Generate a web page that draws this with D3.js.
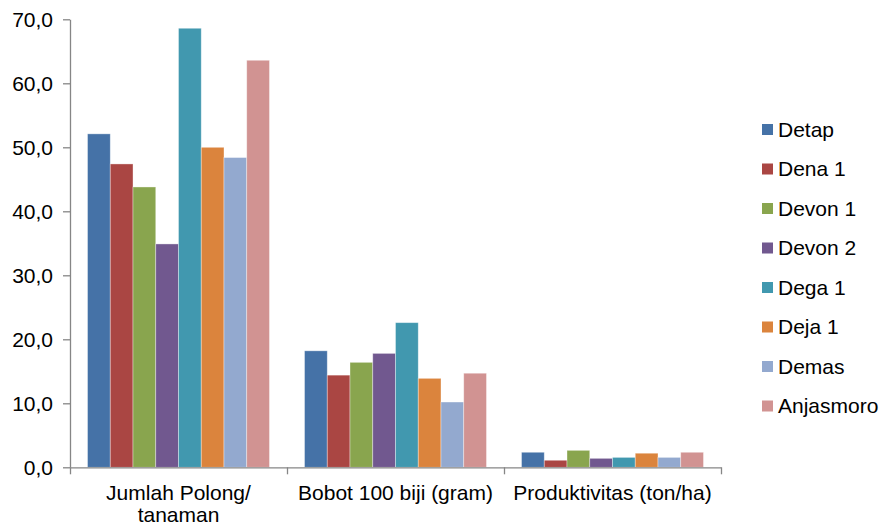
<!DOCTYPE html>
<html>
<head>
<meta charset="utf-8">
<script src="https://cdn.jsdelivr.net/npm/d3@7"></script>
<style>
  html, body { margin: 0; padding: 0; background: #fff; }
  svg { display: block; font-family: "Liberation Sans", Arial, sans-serif; }
</style>
</head>
<body>
<svg id="chart" width="880" height="524"></svg>
<script>
// Categories (each label may wrap onto several lines)
const categories = ["Jumlah Polong/ tanaman", "Bobot 100 biji (gram)", "Produktivitas (ton/ha)"];
const categoryLines = [["Jumlah Polong/", "tanaman"], ["Bobot 100 biji (gram)"], ["Produktivitas (ton/ha)"]];

// Soybean varieties
const series = ["Detap", "Dena 1", "Devon 1", "Devon 2", "Dega 1", "Deja 1", "Demas", "Anjasmoro"];
const colors = ["#4572A7", "#AA4643", "#89A54E", "#71588F", "#4198AF", "#DB843D", "#93A9CF", "#D19392"];

// Values per variety, one per category
const detap     = [52.1, 18.2, 2.35];
const dena1     = [47.4, 14.4, 1.1];
const devon1    = [43.8, 16.4, 2.65];
const devon2    = [34.9, 17.8, 1.4];
const dega1     = [68.6, 22.6, 1.55];
const deja1     = [50.0, 13.9, 2.2];
const demas     = [48.4, 10.2, 1.55];
const anjasmoro = [63.6, 14.7, 2.35];

const yTicks = [0, 10, 20, 30, 40, 50, 60, 70];

const valuesBySeries = [detap, dena1, devon1, devon2, dega1, deja1, demas, anjasmoro];

(function draw() {
  const svg = d3.select("#chart");
  const plotLeft = 70, plotRight = 721, plotTop = 19.3, plotBottom = 467.3;
  const axisColor = "#868686";
  const fontSize = 21;

  const y = d3.scaleLinear().domain([0, 70]).range([plotBottom, plotTop]);
  const x0 = d3.scaleBand().domain(categories).range([plotLeft, plotRight]).paddingInner(0).paddingOuter(0);
  const x1 = d3.scaleBand().domain(series).range([0, x0.bandwidth()]).paddingInner(0).paddingOuter(0.77);

  // Bars
  const groups = svg.append("g").selectAll("g")
    .data(categories)
    .join("g")
    .attr("transform", d => `translate(${x0(d)},0)`);

  groups.selectAll("rect")
    .data((c, ci) => series.map((s, si) => ({ s, si, v: valuesBySeries[si][ci] })))
    .join("rect")
    .attr("x", d => x1(d.s))
    .attr("width", x1.bandwidth())
    .attr("y", d => y(d.v))
    .attr("height", d => y(0) - y(d.v))
    .attr("fill", d => colors[d.si])
    .attr("stroke", "#ffffff")
    .attr("stroke-opacity", 0.45)
    .attr("stroke-width", 0.8);

  // Y axis
  const yAxis = svg.append("g")
    .attr("transform", `translate(${plotLeft},0)`)
    .call(d3.axisLeft(y)
      .tickValues(yTicks)
      .tickSize(7)
      .tickSizeOuter(0)
      .tickPadding(10)
      .tickFormat(d => d.toFixed(1).replace(".", ",")));
  yAxis.select(".domain").attr("stroke", axisColor).attr("stroke-width", 1.3);
  yAxis.selectAll(".tick line").attr("stroke", axisColor).attr("stroke-width", 1.3);
  yAxis.selectAll(".tick text")
    .attr("fill", "#000")
    .style("font-size", fontSize + "px")
    .style("font-family", "Liberation Sans, Arial, sans-serif");

  // X axis: ticks at the category boundaries
  const xb = d3.scaleLinear().domain([0, categories.length]).range([plotLeft, plotRight]);
  const xAxis = svg.append("g")
    .attr("transform", `translate(0,${plotBottom})`)
    .call(d3.axisBottom(xb)
      .tickValues(d3.range(categories.length + 1))
      .tickSize(7)
      .tickSizeOuter(0)
      .tickFormat(""));
  xAxis.select(".domain").attr("stroke", axisColor).attr("stroke-width", 1.3);
  xAxis.selectAll(".tick line").attr("stroke", axisColor).attr("stroke-width", 1.3);

  // Category labels
  const catLabels = svg.append("g").selectAll("text")
    .data(categories)
    .join("text")
    .attr("x", d => x0(d) + x0.bandwidth() / 2)
    .attr("y", 500)
    .attr("text-anchor", "middle")
    .attr("fill", "#000")
    .style("font-size", fontSize + "px");
  catLabels.each(function(d, i) {
    d3.select(this).selectAll("tspan")
      .data(categoryLines[i])
      .join("tspan")
      .attr("x", x0(d) + x0.bandwidth() / 2)
      .attr("dy", (t, j) => j === 0 ? 0 : 22)
      .text(t => t);
  });

  // Legend
  const legend = svg.append("g").selectAll("g")
    .data(series)
    .join("g")
    .attr("transform", (d, i) => `translate(762,${129.5 + i * 39.5})`);
  legend.append("rect")
    .attr("x", 0).attr("y", -5.5)
    .attr("width", 11).attr("height", 11)
    .attr("fill", (d, i) => colors[i]);
  legend.append("text")
    .attr("x", 16)
    .attr("y", 0)
    .attr("dy", "0.35em")
    .attr("fill", "#000")
    .style("font-size", fontSize + "px")
    .text(d => d);
})();
</script>
</body>
</html>
